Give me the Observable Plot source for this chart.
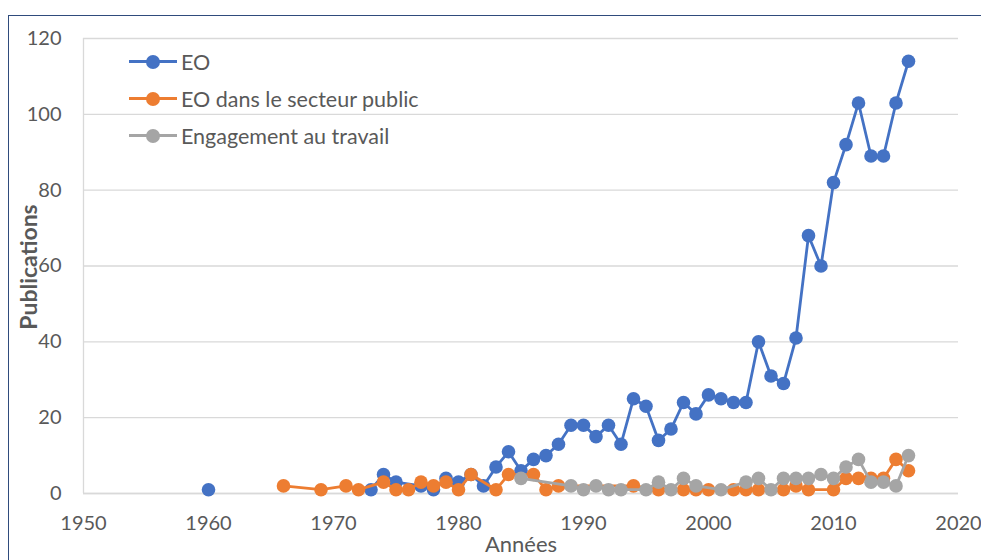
<!DOCTYPE html>
<html>
<head>
<meta charset="utf-8">
<script src="https://cdn.jsdelivr.net/npm/d3@7"></script>
<script src="https://cdn.jsdelivr.net/npm/@observablehq/plot@0.6"></script>
<style>
  html, body { margin: 0; padding: 0; background: #fff; overflow: hidden; }
  #wrap { position: relative; width: 981px; height: 560px; font-family: Lato, "Noto Sans", sans-serif; }
  #frame { position: absolute; left: 8px; top: 15px; width: 990px; height: 600px; border: 1.5px solid #2f4b7c; pointer-events: none; }
  #legend { position: absolute; left: 129px; top: 43px; color: #595959; font-size: 21.5px; }
  .row { display: flex; align-items: center; height: 37px; }
  .sw { position: relative; width: 48px; height: 14px; margin-right: 4px; }
  .sw .ln { position: absolute; left: 0; right: 0; top: 5.5px; height: 3px; }
  .sw .dt { position: absolute; left: 17px; top: 0; width: 14px; height: 14px; border-radius: 50%; }
  #ytitle { position: absolute; left: 28px; top: 267px; transform: translate(-50%, -50%) rotate(-90deg); font-weight: bold; font-size: 23px; color: #595959; white-space: nowrap; }
</style>
</head>
<body>
<div id="wrap">
  <div id="chart"></div>
  <div id="legend"></div>
  <div id="ytitle">Publications</div>
  <div id="frame"></div>
</div>
<script>
const seriesNames = ["EO", "EO dans le secteur public", "Engagement au travail"];
const seriesColors = ["#4472c4", "#ed7d31", "#a5a5a5"];

const eoYears = [1960, 1973, 1974, 1975, 1977, 1978, 1979, 1980, 1981, 1982, 1983, 1984, 1985, 1986, 1987, 1988, 1989, 1990, 1991, 1992, 1993, 1994, 1995, 1996, 1997, 1998, 1999, 2000, 2001, 2002, 2003, 2004, 2005, 2006, 2007, 2008, 2009, 2010, 2011, 2012, 2013, 2014, 2015, 2016];
const eoValues = [1, 1, 5, 3, 2, 1, 4, 3, 5, 2, 7, 11, 6, 9, 10, 13, 18, 18, 15, 18, 13, 25, 23, 14, 17, 24, 21, 26, 25, 24, 24, 40, 31, 29, 41, 68, 60, 82, 92, 103, 89, 89, 103, 114];
// the 1960 EO point stands alone (no line joins it to 1973)
const eoIsolatedYears = [1960];

const publicYears = [1966, 1969, 1971, 1972, 1974, 1975, 1976, 1977, 1978, 1979, 1980, 1981, 1983, 1984, 1986, 1987, 1988, 1994, 1996, 1998, 1999, 2000, 2002, 2003, 2004, 2006, 2007, 2008, 2010, 2011, 2012, 2013, 2014, 2015, 2016];
const publicValues = [2, 1, 2, 1, 3, 1, 1, 3, 2, 3, 1, 5, 1, 5, 5, 1, 2, 2, 1, 1, 1, 1, 1, 1, 1, 1, 2, 1, 1, 4, 4, 4, 4, 9, 6];

const engYears = [1985, 1989, 1990, 1991, 1992, 1993, 1995, 1996, 1997, 1998, 1999, 2001, 2003, 2004, 2005, 2006, 2007, 2008, 2009, 2010, 2011, 2012, 2013, 2014, 2015, 2016];
const engValues = [4, 2, 1, 2, 1, 1, 1, 3, 1, 4, 2, 1, 3, 4, 1, 4, 4, 4, 5, 4, 7, 9, 3, 3, 2, 10];

const xTicks = [1950, 1960, 1970, 1980, 1990, 2000, 2010, 2020];
const yTicks = [0, 20, 40, 60, 80, 100, 120];

const series = [
  eoYears.map((x, i) => ({x, y: eoValues[i], s: seriesNames[0]})),
  publicYears.map((x, i) => ({x, y: publicValues[i], s: seriesNames[1]})),
  engYears.map((x, i) => ({x, y: engValues[i], s: seriesNames[2]}))
];

const marks = [
  Plot.gridY(yTicks, {stroke: "#d9d9d9", strokeOpacity: 1, strokeWidth: 1.3}),
  Plot.ruleX([1950], {stroke: "#d9d9d9", strokeWidth: 1.3}),
  Plot.ruleY([0], {stroke: "#d9d9d9", strokeWidth: 1.3}),
  Plot.axisX(xTicks, {tickSize: 0, tickPadding: 22, tickFormat: d => String(d), fontSize: 20, fill: "#595959", label: null}),
  Plot.axisY(yTicks, {tickSize: 0, tickPadding: 22, fontSize: 20, fill: "#595959", label: null}),
  Plot.text(["Années"], {frameAnchor: "bottom", dy: 58, fontSize: 22, fill: "#595959"})
];
series.forEach((data, i) => {
  const lineData = i === 0 ? data.filter(d => !eoIsolatedYears.includes(d.x)) : data;
  marks.push(Plot.line(lineData, {x: "x", y: "y", stroke: seriesColors[i], strokeWidth: 2.8}));
  marks.push(Plot.dot(data, {x: "x", y: "y", r: 6.8, fill: seriesColors[i], stroke: "none"}));
});

const chart = Plot.plot({
  width: 981,
  height: 560,
  marginLeft: 83,
  marginRight: 23,
  marginTop: 38,
  marginBottom: 67,
  style: {fontFamily: "Lato, 'Noto Sans', sans-serif", color: "#595959", background: "#fff", overflow: "visible"},
  x: {domain: [1950, 2020]},
  y: {domain: [0, 120]},
  marks
});
document.getElementById("chart").appendChild(chart);

const legend = document.getElementById("legend");
seriesNames.forEach((name, i) => {
  const row = document.createElement("div");
  row.className = "row";
  row.innerHTML = `<div class="sw"><div class="ln" style="background:${seriesColors[i]}"></div><div class="dt" style="background:${seriesColors[i]}"></div></div><span>${name}</span>`;
  legend.appendChild(row);
});
</script>
</body>
</html>
